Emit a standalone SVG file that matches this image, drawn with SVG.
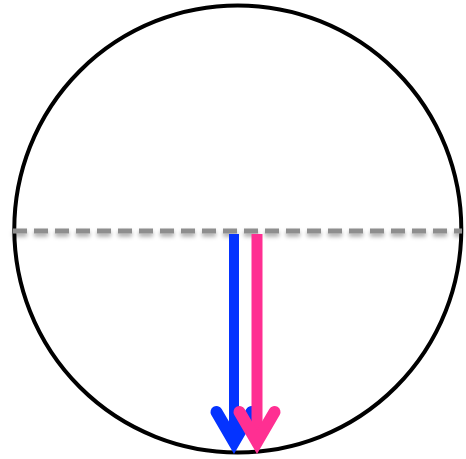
<svg xmlns="http://www.w3.org/2000/svg" width="466" height="459" viewBox="0 0 466 459">
<defs>
<filter id="sh" filterUnits="userSpaceOnUse" x="0" y="215" width="466" height="35">
<feDropShadow dx="0" dy="3" stdDeviation="2" flood-color="#000" flood-opacity="0.35"/>
</filter>
<style>
.arr{fill:none;stroke-width:12;stroke-linecap:round;stroke-linejoin:miter;stroke-miterlimit:10}
</style>
</defs>
<rect width="466" height="459" fill="#fff"/>
<g id="circle">
<circle cx="237.8" cy="229" r="223.5" fill="none" stroke="#000" stroke-width="4"/>
</g>
<g id="axis">
<line x1="13" y1="231" x2="462" y2="231" stroke="#8e8e8e" stroke-width="5" stroke-dasharray="14 7" filter="url(#sh)"/>
</g>
<g id="connectors">
<g id="blue-arrow" stroke="#0433FF">
<line x1="234" y1="234" x2="234" y2="440" stroke-width="10"/>
<polyline class="arr" points="216.5,412 234,442 251.5,412"/>
</g>
<g id="pink-arrow" stroke="#FF2F92">
<line x1="257" y1="234" x2="257" y2="440" stroke-width="11"/>
<polyline class="arr" points="239.5,412 257,442 274.5,412"/>
</g>
</g>
</svg>
